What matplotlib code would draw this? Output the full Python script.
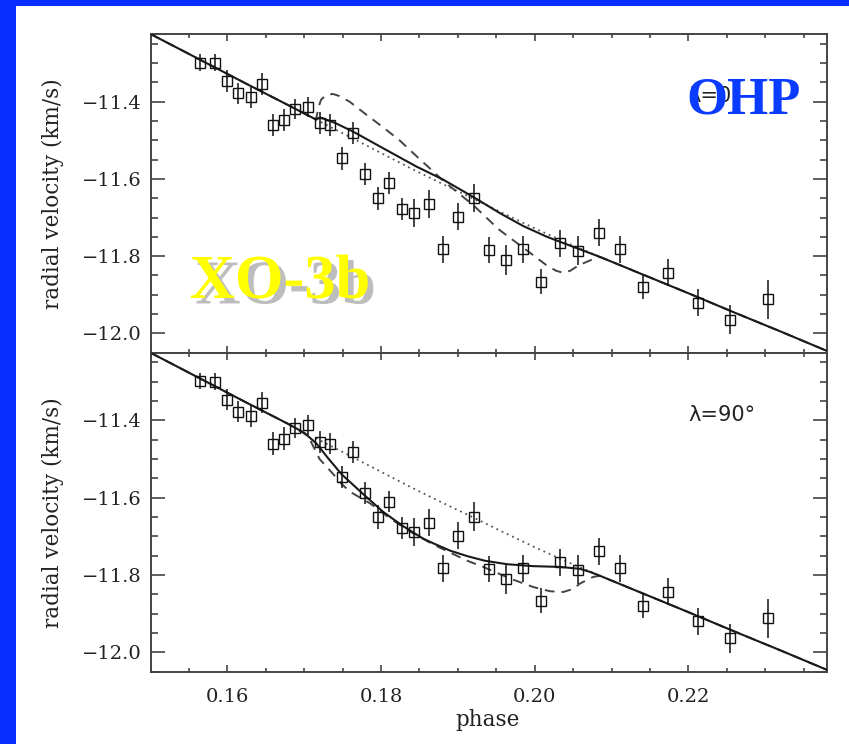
# -*- coding: utf-8 -*-
# Rossiter-McLaughlin panels for XO-3b (OHP), two spin-orbit angles
import matplotlib
matplotlib.use('Agg')
import matplotlib.pyplot as plt
import matplotlib.patheffects as pe
from matplotlib.patches import Rectangle
from matplotlib.ticker import MultipleLocator, FuncFormatter

# measured radial velocities (same in both panels)
phase = [0.1564, 0.1584, 0.1600, 0.1614, 0.1631, 0.1645, 0.1659, 0.1674, 0.1688,
         0.1705, 0.1720, 0.1734, 0.1749, 0.1764, 0.1779, 0.1796, 0.1811, 0.1827,
         0.1843, 0.1862, 0.1881, 0.1900, 0.1921, 0.1940, 0.1963, 0.1985, 0.2008,
         0.2033, 0.2057, 0.2084, 0.2111, 0.2141, 0.2173, 0.2212, 0.2254, 0.2303]
rv = [-11.299, -11.300, -11.346, -11.378, -11.389, -11.354, -11.460, -11.447, -11.420,
      -11.413, -11.456, -11.460, -11.547, -11.482, -11.587, -11.650, -11.610, -11.678,
      -11.689, -11.665, -11.782, -11.698, -11.649, -11.784, -11.810, -11.782, -11.866,
      -11.767, -11.786, -11.739, -11.782, -11.879, -11.843, -11.920, -11.964, -11.912]
rv_err = [0.021, 0.022, 0.028, 0.027, 0.028, 0.028, 0.029, 0.029, 0.026,
          0.026, 0.029, 0.028, 0.029, 0.028, 0.028, 0.030, 0.028, 0.028,
          0.036, 0.035, 0.035, 0.035, 0.037, 0.034, 0.038, 0.035, 0.033,
          0.035, 0.038, 0.035, 0.035, 0.032, 0.035, 0.036, 0.038, 0.050]

# keplerian orbit (no RM effect)
kep_phase = [0.150, 0.156, 0.162, 0.168, 0.1715, 0.176, 0.180, 0.184, 0.188, 0.192,
             0.196, 0.200, 0.204, 0.2085, 0.214, 0.220, 0.226, 0.232, 0.238]
kep_rv = [-11.225, -11.287, -11.349, -11.410, -11.446, -11.492, -11.533, -11.574, -11.613,
          -11.651, -11.690, -11.728, -11.764, -11.802, -11.847, -11.896, -11.946, -11.995,
          -12.045]

# lambda = 0 models, in-transit part
sol0_phase = [0.1721, 0.1740, 0.1764, 0.1803, 0.1846, 0.1881, 0.1921, 0.1955, 0.1985,
              0.2016, 0.2045]
sol0_rv = [-11.441, -11.455, -11.478, -11.521, -11.568, -11.602, -11.648, -11.689, -11.722,
           -11.750, -11.772]
dash0_phase = [0.1716, 0.1719, 0.1722, 0.1728, 0.1737, 0.1745, 0.1759, 0.1781, 0.1803,
               0.1824, 0.1846, 0.1868, 0.1881, 0.1920, 0.1954, 0.1989, 0.2015, 0.2028,
               0.2037, 0.2046, 0.2058, 0.2078]
dash0_rv = [-11.440, -11.412, -11.395, -11.384, -11.380, -11.385, -11.400, -11.434, -11.467,
            -11.500, -11.541, -11.581, -11.605, -11.668, -11.732, -11.784, -11.823, -11.838,
            -11.843, -11.838, -11.823, -11.806]

# lambda = 90 models, in-transit part
sol90_phase = [0.1700, 0.1716, 0.1732, 0.1749, 0.1777, 0.1803, 0.1829, 0.1855, 0.1868,
               0.1890, 0.1912, 0.1935, 0.1964, 0.1998, 0.2033, 0.2059, 0.2072]
sol90_rv = [-11.432, -11.460, -11.500, -11.540, -11.591, -11.637, -11.674, -11.706, -11.718,
            -11.737, -11.751, -11.763, -11.772, -11.777, -11.779, -11.784, -11.792]
dash90_phase = [0.1705, 0.1720, 0.1736, 0.1749, 0.1760, 0.1786, 0.1812, 0.1840, 0.1868,
                0.1890, 0.1911, 0.1933, 0.1968, 0.1998, 0.2020, 0.2037, 0.2050, 0.2059,
                0.2076]
dash90_rv = [-11.440, -11.500, -11.535, -11.565, -11.585, -11.615, -11.654, -11.690, -11.721,
             -11.742, -11.762, -11.779, -11.809, -11.831, -11.842, -11.844, -11.836, -11.822,
             -11.805]

labels = ['\u03bb=0\u00b0', '\u03bb=90\u00b0']

BLUE = '#0a2dff'
serif = 'DejaVu Serif'


def fmt_y(v, pos):
    s = '%.1f' % abs(v)
    return ('\u2212' + s) if v < 0 else s


fig = plt.figure(figsize=(8.49, 7.44), dpi=100)
fig.patch.set_facecolor('white')

# slide frame
fig.add_artist(Rectangle((0, 0), 16 / 849, 1, transform=fig.transFigure,
                         color=BLUE, lw=0, zorder=0))
fig.add_artist(Rectangle((0, 1 - 6 / 744), 1, 6 / 744, transform=fig.transFigure,
                         color=BLUE, lw=0, zorder=0))

ax1 = fig.add_axes([0.1773, 0.5259, 0.7964, 0.4284])
ax2 = fig.add_axes([0.1773, 0.0972, 0.7964, 0.4287])

models = [
    (kep_phase[:5] + sol0_phase + kep_phase[13:], kep_rv[:5] + sol0_rv + kep_rv[13:],
     kep_phase[:5] + dash0_phase + kep_phase[13:], kep_rv[:5] + dash0_rv + kep_rv[13:]),
    (kep_phase[:4] + sol90_phase + kep_phase[13:], kep_rv[:4] + sol90_rv + kep_rv[13:],
     kep_phase[:4] + dash90_phase + kep_phase[13:], kep_rv[:4] + dash90_rv + kep_rv[13:]),
]

for ax, (sx, sy, dx, dy), lab in zip([ax1, ax2], models, labels):
    ax.plot(kep_phase[4:14], kep_rv[4:14], color='#555555', lw=1.3,
            linestyle=(0, (1, 2.2)), zorder=2)
    ax.plot(dx, dy, color='#444444', lw=1.4, linestyle=(0, (5, 3.6)), zorder=2)
    ax.plot(sx, sy, color='#1a1a1a', lw=1.5, zorder=3)
    ax.errorbar(phase, rv, yerr=rv_err, fmt='s', ms=7.5, mfc='none', mec='#111111',
                mew=1.0, ecolor='#111111', elinewidth=1.1, capsize=0, zorder=4)

    ax.set_xlim(0.15, 0.238)
    ax.set_ylim(-12.05, -11.225)
    ax.xaxis.set_major_locator(MultipleLocator(0.02))
    ax.xaxis.set_minor_locator(MultipleLocator(0.005))
    ax.yaxis.set_major_locator(MultipleLocator(0.2))
    ax.yaxis.set_minor_locator(MultipleLocator(0.05))
    ax.xaxis.set_major_formatter(FuncFormatter(lambda v, pos: '%.2f' % v))
    ax.yaxis.set_major_formatter(FuncFormatter(fmt_y))
    ax.tick_params(which='both', direction='in', top=True, right=True,
                   color='#444444', width=1.2, labelcolor='#222222')
    ax.tick_params(axis='y', which='major', length=10, pad=6, labelsize=14)
    ax.tick_params(axis='y', which='minor', length=5)
    ax.tick_params(axis='x', which='major', length=5, pad=12, labelsize=14)
    ax.tick_params(axis='x', which='minor', length=2.6)
    for t in ax.get_xticklabels() + ax.get_yticklabels():
        t.set_family(serif)
    for s in ax.spines.values():
        s.set_color('#444444')
        s.set_linewidth(1.4)

    ax.set_ylabel('radial velocity (km/s)', fontsize=15.5, family=serif, color='#222222')
    ax.yaxis.set_label_coords(-0.128, 0.5)

    # lambda label (in the top panel it sits under the OHP stamp)
    ax.text(0.795, 0.805, lab, transform=ax.transAxes, fontsize=15,
            family='DejaVu Sans', color='#222222', va='center', ha='left')

ax1.tick_params(axis='x', labelbottom=False)
ax2.set_xlabel('phase', fontsize=15.5, family=serif, color='#222222')
ax2.xaxis.set_label_coords(0.498, -0.118)

# slide overlays
ax1.text(0.058, 0.172, 'XO-3b', transform=ax1.transAxes, fontsize=45,
         family='Liberation Serif', weight='bold', color='#ffff00', ha='left',
         va='baseline', zorder=6,
         path_effects=[pe.withSimplePatchShadow(offset=(4, -4), shadow_rgbFace='#6e6e6e',
                                                alpha=0.45)])
ax1.text(0.793, 0.752, 'OHP', transform=ax1.transAxes, fontsize=38,
         family='Liberation Serif', weight='bold', color='#0a3cff', ha='left',
         va='baseline', zorder=6)

plt.savefig('out.png', dpi=100)
